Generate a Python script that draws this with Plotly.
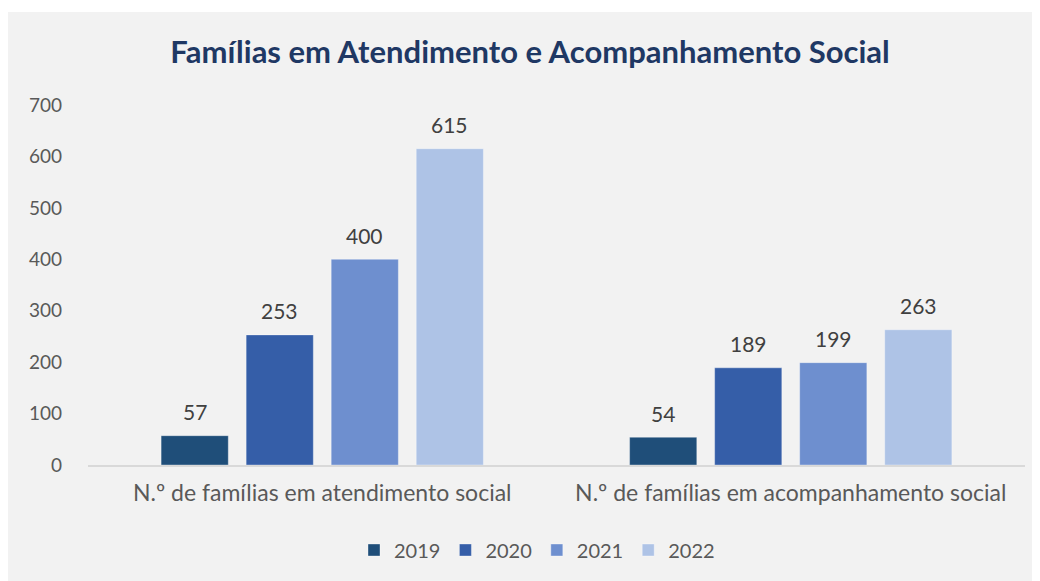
import plotly.graph_objects as go

categories = ["N.º de famílias em atendimento social", "N.º de famílias em acompanhamento social"]
years = ["2019", "2020", "2021", "2022"]
v2019 = [57, 54]
v2020 = [253, 189]
v2021 = [400, 199]
v2022 = [615, 263]
series = [v2019, v2020, v2021, v2022]
colors = ["#1F4E79", "#355EA8", "#6E8FCF", "#AEC3E6"]
tick_vals = [0, 100, 200, 300, 400, 500, 600, 700]

FONT = "Lato, Open Sans, sans-serif"
W, H = 1048, 581
ML, MR, MT, MB = 80, 31, 97, 124
PW, PH = W - ML - MR, H - MT - MB

fig = go.Figure()
for y, vals, c in zip(years, series, colors):
    fig.add_trace(go.Bar(
        x=categories, y=vals, name=y,
        marker=dict(color=c, line=dict(color="rgba(255,255,255,0.35)", width=1)),
    ))

# data labels as annotations above each bar
slot = PW / len(categories) * (1 - 0.274) / len(years)
for i, (vals) in enumerate(series):
    off = (i - (len(years) - 1) / 2) * slot
    for cat, v in zip(categories, vals):
        fig.add_annotation(x=cat, y=v, text=str(v), showarrow=False,
                           xshift=off, yshift=24, yanchor="middle",
                           font=dict(family=FONT, size=21, color="#404040"))

# thin white strip at very top
fig.add_shape(type="rect", xref="paper", yref="paper",
              x0=-ML / PW, x1=1 + MR / PW, y0=1 + (MT - 4) / PH, y1=1 + MT / PH,
              fillcolor="white", line=dict(width=0), layer="below")

fig.update_layout(
    width=W, height=H,
    paper_bgcolor="#F2F2F2", plot_bgcolor="rgba(0,0,0,0)",
    margin=dict(l=ML, r=MR, t=MT, b=MB, autoexpand=False),
    barmode="group", bargap=0.274, bargroupgap=0.21,
    title=dict(text="<b>Famílias em Atendimento e Acompanhamento Social</b>",
               x=522 / W, xanchor="center", y=1 - 44 / H, yanchor="middle",
               font=dict(family=FONT, size=31, color="#1F3864")),
    showlegend=True,
    legend=dict(orientation="h", x=529 / W, xref="container", xanchor="center",
                y=1 - 542 / H, yref="container", yanchor="middle",
                bgcolor="rgba(0,0,0,0)",
                font=dict(family=FONT, size=20, color="#595959"),
                itemwidth=30, traceorder="normal"),
    xaxis=dict(showline=True, linecolor="#D9D9D9", linewidth=1.5, ticks="",
               tickfont=dict(family=FONT, size=23, color="#595959"),
               ticklabelstandoff=7),
    yaxis=dict(range=[0, 700], tickvals=tick_vals, showgrid=False, zeroline=False,
               showline=False, ticks="",
               tickfont=dict(family=FONT, size=19, color="#595959"),
               ticklabelstandoff=25),
)

fig.write_html("out.html")
